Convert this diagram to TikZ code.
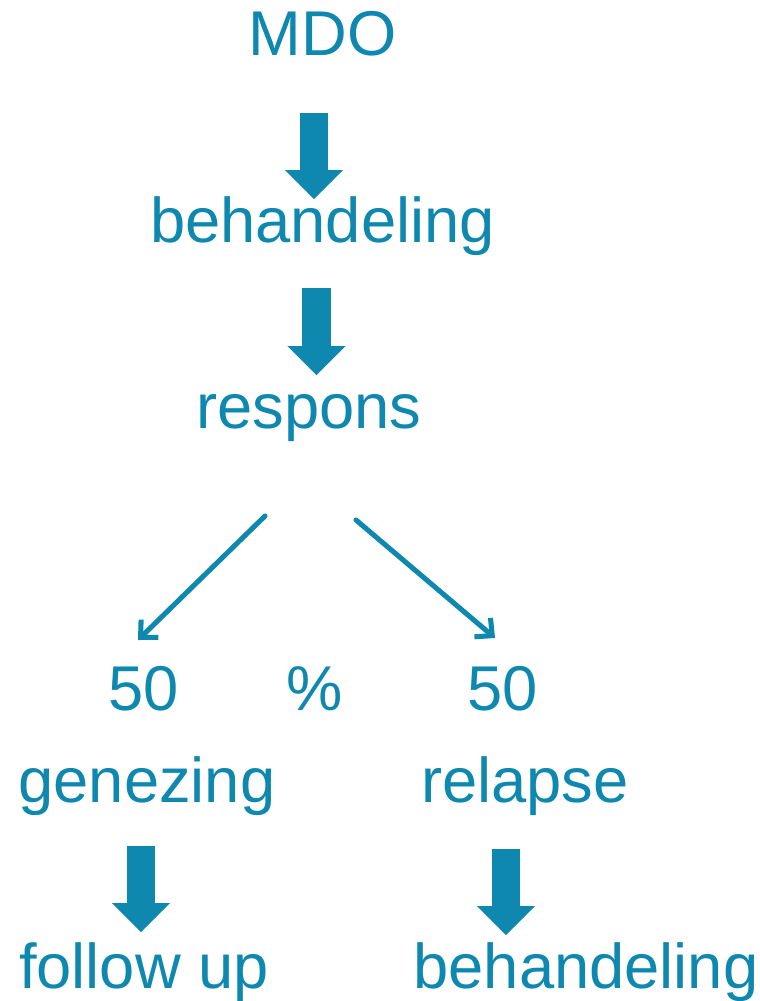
\documentclass[tikz,border=0pt]{standalone}
\usepackage{fontspec}
\setmainfont{Liberation Sans}
\usetikzlibrary{arrows.meta}
\definecolor{mdoblue}{HTML}{0F88B0}

\begin{document}
\begin{tikzpicture}[
    x=0.025cm,
    y=-0.025cm,
    word/.style={
      text=mdoblue,
      font=\fontsize{45}{50}\selectfont,
      anchor=base,
      inner sep=0pt
    },
    bigarrow/.style={
      draw=mdoblue,
      fill=mdoblue,
      line width=0.7cm,
      -{Triangle[length=0.72cm,width=1.45cm,line width=0pt]}
    },
    branch/.style={
      draw=mdoblue,
      line width=3.6pt,
      line cap=round,
      -{Straight Barb[length=0.32cm,width=0.62cm]}
    }
  ]
    \useasboundingbox (0,0) rectangle (759,1001);

    \foreach \x/\y/\n/\t in {322.5/55/mdo/MDO,322.5/242/beh/behandeling,
        309/428/resp/respons,143.5/710/pleft/50,315/710/pct/\%,
        502.5/710/pright/50,147/802/gen/genezing,525/802/rel/relapse,
        144/988/fup/follow up,586/988/beh2/behandeling}
      \node[word] (\n) at (\x,\y) {\t};

    \foreach \i/\x/\a/\b in {1/314/113/199,2/316.5/288/375,3/141/846/932,4/506/849/935}
    {
      \coordinate (s\i) at (\x,\a);
      \coordinate (e\i) at (\x,\b);
      \draw[bigarrow] (s\i) -- (e\i);
    }

    \coordinate (l1) at (265,516);
    \coordinate (l2) at (138,640);
    \coordinate (r1) at (356,520);
    \coordinate (r2) at (495,638);

    \draw[branch] (l1) -- (l2);
    \draw[branch] (r1) -- (r2);
  \end{tikzpicture}
\end{document}
